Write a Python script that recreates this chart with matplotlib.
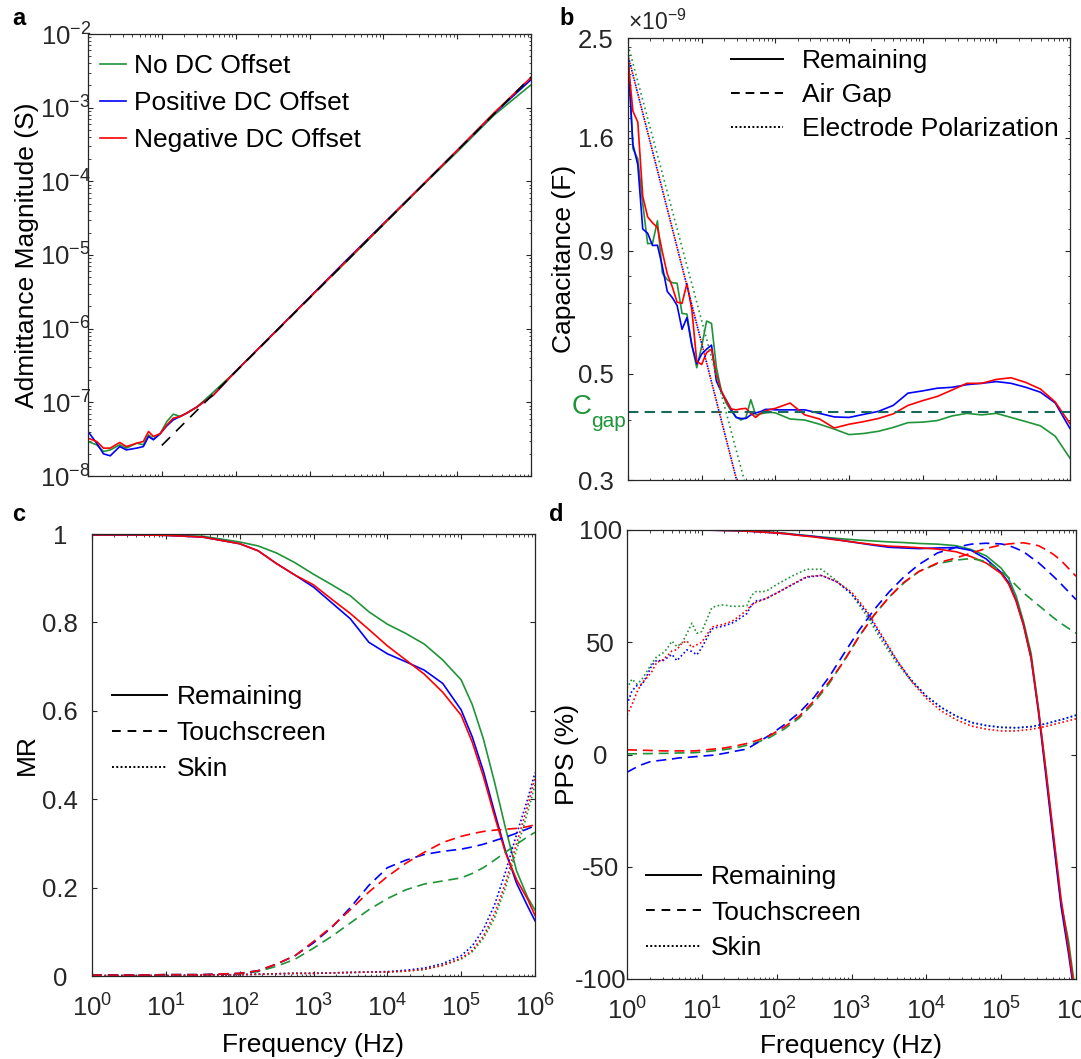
import numpy as np
import matplotlib
matplotlib.use("Agg")
import matplotlib.pyplot as plt
from matplotlib.lines import Line2D
from matplotlib import ticker, transforms

# ---------------------------------------------------------------- data ----
# (a) admittance magnitude (S) versus frequency (Hz)
freq_a = [1.0, 1.31, 1.62, 2.0, 2.69, 3.31, 4.57, 5.62, 6.61, 7.67, 9.46, 11.7,
          14.3, 17.7, 21.7, 29.7, 50.1, 100.0, 316.0, 1000.0, 3162.0, 1.0e4,
          3.162e4, 1.0e5, 3.162e5, 1.0e6]
adm_none = [2.94e-8, 2.65e-8, 2.15e-8, 2.26e-8, 2.65e-8, 2.39e-8, 2.79e-8, 2.65e-8,
            3.62e-8, 3.16e-8, 3.74e-8, 5.50e-8, 6.91e-8, 6.43e-8, 7.13e-8, 8.61e-8,
            1.38e-7, 2.63e-7, 8.32e-7, 2.63e-6, 8.13e-6, 2.57e-5, 8.13e-5, 2.51e-4,
            7.94e-4, 2.04e-3]
adm_pos = [4.02e-8, 2.79e-8, 2.00e-8, 1.88e-8, 2.51e-8, 2.26e-8, 2.39e-8, 2.51e-8,
           3.44e-8, 3.10e-8, 3.74e-8, 4.80e-8, 5.79e-8, 6.43e-8, 7.13e-8, 8.61e-8,
           1.26e-7, 2.63e-7, 8.32e-7, 2.66e-6, 8.51e-6, 2.66e-5, 8.32e-5, 2.63e-4,
           8.32e-4, 2.40e-3]
adm_neg = [3.27e-8, 2.94e-8, 2.39e-8, 2.39e-8, 2.85e-8, 2.51e-8, 2.79e-8, 2.94e-8,
           4.02e-8, 3.44e-8, 3.74e-8, 4.95e-8, 6.10e-8, 6.43e-8, 7.13e-8, 8.61e-8,
           1.26e-7, 2.63e-7, 8.32e-7, 2.63e-6, 8.32e-6, 2.63e-5, 8.32e-5, 2.63e-4,
           8.51e-4, 2.57e-3]
# air-gap admittance line (end points)
gapline_freq = [10.0, 1.0e6]
gapline_adm = [2.6e-8, 2.6e-3]

# frequency grid shared by panel b and the skin curves of panel d (Hz)
freq_fine = [1.0, 1.166, 1.359, 1.585, 1.848, 2.154, 2.512, 2.929, 3.415, 3.981,
             4.642, 5.412, 6.310, 7.356, 8.577, 10.0, 11.66, 13.59, 15.85, 18.48,
             21.54, 25.12, 29.29, 34.15, 39.81, 46.42, 54.12, 63.10, 73.56, 85.77,
             100.0, 158.5, 251.2, 398.1, 631.0, 1000.0, 1585.0, 2512.0, 3981.0,
             6310.0, 1.0e4, 1.585e4, 2.512e4, 3.981e4, 6.31e4, 1.0e5, 1.585e5,
             2.512e5, 3.981e5, 6.31e5, 1.0e6]

# (b) remaining capacitance (nF)
cap_none = [2.36, 1.47, 1.40, 1.13, 0.932, 0.934, 1.04, 0.809, 0.784, 0.773, 0.771,
            0.667, 0.665, 0.574, 0.514, 0.569, 0.643, 0.636, 0.515, 0.460, 0.434,
            0.418, 0.406, 0.400, 0.405, 0.441, 0.410, 0.412, 0.414, 0.415, 0.414,
            0.402, 0.400, 0.392, 0.383, 0.373, 0.375, 0.379, 0.386, 0.395, 0.396,
            0.399, 0.408, 0.413, 0.410, 0.413, 0.405, 0.397, 0.389, 0.370, 0.333]
cap_pos = [2.27, 1.50, 1.36, 1.00, 0.98, 0.924, 0.925, 0.835, 0.741, 0.72, 0.693,
           0.618, 0.654, 0.572, 0.524, 0.549, 0.562, 0.573, 0.482, 0.458, 0.440,
           0.421, 0.405, 0.403, 0.403, 0.410, 0.414, 0.4165, 0.421, 0.421, 0.420,
           0.420, 0.420, 0.413, 0.406, 0.405, 0.411, 0.417, 0.429, 0.455, 0.460,
           0.466, 0.468, 0.474, 0.477, 0.481, 0.477, 0.468, 0.457, 0.434, 0.384]
cap_neg = [2.24, 1.76, 1.67, 1.17, 1.06, 1.03, 1.007, 0.895, 0.806, 0.759, 0.704,
           0.700, 0.770, 0.679, 0.530, 0.522, 0.553, 0.562, 0.497, 0.460, 0.439,
           0.422, 0.420, 0.422, 0.423, 0.413, 0.405, 0.413, 0.418, 0.421, 0.423,
           0.434, 0.410, 0.402, 0.385, 0.392, 0.397, 0.403, 0.412, 0.429, 0.439,
           0.448, 0.462, 0.477, 0.477, 0.486, 0.490, 0.479, 0.464, 0.436, 0.393]
# electrode polarization fits (end points, nF)
ep_freq_pn = [1.0, 29.8]
ep_cap_pn = [2.30, 0.30]
ep_freq_none = [1.0, 37.8]
ep_cap_none = [2.42, 0.30]
c_gap = 0.415  # nF

# (c) magnitude ratio
freq_c = [1.0, 3.98, 10.0, 31.6, 100.0, 178.0, 316.0, 562.0, 1000.0, 1778.0,
          3162.0, 5623.0, 1.0e4, 1.778e4, 3.162e4, 5.623e4, 1.0e5, 1.413e5,
          1.995e5, 2.818e5, 3.981e5, 5.623e5, 7.943e5, 1.0e6]
mr_rem_none = [0.998, 0.998, 0.997, 0.995, 0.982, 0.973, 0.957, 0.935, 0.909, 0.885,
               0.860, 0.824, 0.796, 0.775, 0.751, 0.715, 0.670, 0.614, 0.537, 0.440,
               0.335, 0.238, 0.178, 0.149]
mr_rem_pos = [0.998, 0.998, 0.997, 0.993, 0.978, 0.962, 0.933, 0.907, 0.880, 0.844,
              0.808, 0.755, 0.729, 0.711, 0.692, 0.662, 0.602, 0.541, 0.464, 0.372,
              0.283, 0.210, 0.158, 0.125]
mr_rem_neg = [0.998, 0.998, 0.997, 0.993, 0.978, 0.962, 0.933, 0.907, 0.885, 0.852,
              0.820, 0.784, 0.747, 0.715, 0.683, 0.642, 0.590, 0.529, 0.452, 0.363,
              0.279, 0.218, 0.174, 0.137]
mr_ts_none = [0.002, 0.002, 0.003, 0.003, 0.005, 0.010, 0.022, 0.038, 0.063, 0.090,
              0.120, 0.150, 0.175, 0.195, 0.208, 0.215, 0.222, 0.232, 0.245, 0.262,
              0.280, 0.298, 0.315, 0.325]
mr_ts_pos = [0.002, 0.002, 0.003, 0.003, 0.006, 0.012, 0.027, 0.046, 0.075, 0.110,
             0.155, 0.205, 0.245, 0.262, 0.275, 0.282, 0.287, 0.292, 0.298, 0.306,
             0.314, 0.323, 0.333, 0.340]
mr_ts_neg = [0.002, 0.002, 0.003, 0.003, 0.006, 0.012, 0.027, 0.046, 0.078, 0.112,
             0.150, 0.190, 0.225, 0.255, 0.280, 0.302, 0.316, 0.322, 0.327, 0.330,
             0.332, 0.334, 0.338, 0.342]
mr_skin_none = [0.001, 0.001, 0.001, 0.002, 0.003, 0.004, 0.005, 0.006, 0.006, 0.007,
                0.008, 0.009, 0.009, 0.011, 0.015, 0.024, 0.038, 0.055, 0.085, 0.130,
                0.200, 0.285, 0.370, 0.432]
mr_skin_pos = [0.001, 0.001, 0.001, 0.002, 0.003, 0.004, 0.005, 0.006, 0.006, 0.007,
               0.008, 0.009, 0.010, 0.013, 0.018, 0.028, 0.046, 0.068, 0.105, 0.160,
               0.235, 0.320, 0.400, 0.460]
mr_skin_neg = [0.001, 0.001, 0.001, 0.002, 0.003, 0.004, 0.005, 0.006, 0.006, 0.007,
               0.008, 0.009, 0.009, 0.011, 0.015, 0.024, 0.040, 0.058, 0.090, 0.140,
               0.210, 0.300, 0.385, 0.448]

# (d) phase-angle percentage (%)
freq_d = [1.0, 1.259, 1.585, 1.995, 2.512, 3.162, 3.981, 5.012, 6.310, 7.943, 10.0,
          14.13, 19.95, 28.18, 39.81, 56.23, 79.43, 125.9, 199.5, 316.2, 501.2,
          794.3, 1259.0, 1995.0, 3162.0, 5012.0, 7943.0, 1.4125e4, 2.5119e4,
          3.9811e4, 6.3096e4, 1.0e5, 1.25893e5, 1.58489e5, 1.99526e5, 2.51189e5,
          3.16228e5, 3.98107e5, 5.01187e5, 6.30957e5, 7.94328e5, 1.0e6]
pps_rem_none = [100, 100, 100, 100, 100, 100, 100, 100, 100, 100, 100, 99.95, 99.9,
                99.8, 99.6, 99.4, 99.1, 98.6, 97.9, 97.2, 96.6, 96.0, 95.5, 95.1,
                94.7, 94.4, 94.0, 93.7, 93.0, 91.3, 88.5, 83.0, 78.5, 70.5, 59.0,
                45.0, 20.0, -8.0, -37.5, -65.9, -83.0, -108.0]
pps_rem_pos = [100, 100, 100, 100, 100, 100, 100, 100, 100, 100, 100, 99.9, 99.8,
               99.7, 99.5, 99.2, 98.9, 98.4, 97.7, 97.1, 96.2, 95.2, 94.2, 93.2,
               92.3, 92.0, 91.7, 92.0, 92.2, 90.9, 87.1, 81.1, 76.6, 68.5, 57.5,
               42.8, 18.4, -10.1, -39.1, -67.5, -88.6, -112.0]
pps_rem_neg = [100, 100, 100, 100, 100, 100, 100, 100, 100, 100, 100, 99.9, 99.8,
               99.7, 99.5, 99.2, 98.9, 98.4, 97.6, 96.9, 96.0, 95.2, 94.3, 93.5,
               92.8, 92.5, 92.1, 91.5, 90.3, 88.1, 85.3, 80.6, 75.9, 68.3, 57.5,
               42.9, 19.7, -7.6, -35.9, -64.3, -86.2, -110.0]
pps_ts_none = [0.3, 0.3, 0.4, 0.4, 0.5, 0.5, 0.6, 0.7, 0.7, 0.8, 1.1, 1.6, 2.2, 2.9,
               4.1, 5.5, 7.5, 11.3, 16.2, 23.1, 31.5, 41.8, 52.5, 62.0, 70.0, 76.4,
               81.5, 85.0, 86.6, 87.3, 86.0, 81.6, 78.8, 75.3, 71.9, 69.2, 66.4,
               63.7, 60.9, 58.4, 56.2, 54.0]
pps_ts_pos = [-7.9, -6.1, -4.5, -3.3, -2.8, -2.4, -2.0, -1.5, -1.3, -1.0, -0.7, -0.3,
              0.5, 1.5, 2.4, 5.4, 8.5, 13.2, 18.6, 25.5, 34.5, 45.0, 55.3, 64.4,
              72.3, 79.1, 84.6, 89.8, 92.3, 93.7, 94.1, 93.8, 93.1, 91.8, 90.3,
              87.8, 85.4, 82.4, 79.3, 76.0, 72.5, 69.0]
pps_ts_neg = [2.1, 2.0, 1.9, 1.8, 1.7, 1.6, 1.6, 1.6, 1.6, 1.6, 1.9, 2.4, 2.9, 3.8,
              4.9, 6.4, 8.3, 12.2, 17.0, 23.9, 32.3, 41.6, 52.5, 62.0, 70.0, 76.7,
              81.5, 85.3, 87.6, 89.7, 91.8, 93.3, 93.8, 94.1, 94.3, 93.7, 93.0,
              91.2, 89.1, 86.4, 82.9, 79.4]
pps_skin_none = [29.4, 33.6, 31.3, 33.5, 37.1, 40.7, 43.7, 44.8, 47.0, 50.5, 48.1,
                 49.6, 53.8, 58.5, 54.0, 54.8, 60.1, 65.4, 66.2, 66.6, 66.4, 66.0,
                 66.0, 66.1, 66.2, 71.0, 72.8, 72.4, 72.9, 74.3, 75.7, 79.4, 82.5,
                 82.5, 77.4, 71.5, 61.9, 51.0, 41.0, 32.7, 26.1, 21.0, 17.1, 14.3,
                 12.9, 12.1, 11.9, 12.4, 13.7, 15.5, 17.5]
pps_skin_pos = [22.2, 28.4, 30.7, 31.0, 35.2, 39.8, 42.1, 41.5, 43.0, 44.6, 41.8,
                44.2, 46.6, 45.9, 44.4, 47.6, 51.8, 55.9, 56.6, 57.0, 57.7, 58.5,
                59.7, 61.2, 62.7, 66.7, 68.5, 68.8, 69.6, 70.8, 71.9, 75.5, 79.0,
                79.7, 77.0, 71.6, 63.4, 52.6, 42.1, 33.2, 26.0, 20.9, 17.1, 14.3,
                12.9, 12.1, 11.9, 12.4, 13.7, 15.5, 17.5]
pps_skin_neg = [17.5, 22.2, 27.8, 31.9, 34.2, 37.0, 41.2, 41.9, 43.8, 46.1, 46.7,
                49.6, 50.6, 47.7, 48.9, 50.0, 53.4, 56.7, 57.4, 57.8, 58.5, 59.3,
                60.8, 62.5, 64.3, 66.6, 67.9, 68.7, 69.6, 70.8, 71.9, 75.6, 79.2,
                79.8, 77.0, 72.4, 64.2, 53.4, 42.4, 32.6, 25.0, 19.4, 15.5, 12.7,
                11.3, 10.5, 10.5, 11.2, 12.5, 14.2, 15.9]

offset_labels = ["No DC Offset", "Positive DC Offset", "Negative DC Offset"]
decade_ticks = [1e0, 1e1, 1e2, 1e3, 1e4, 1e5, 1e6]
decade_labels = [r"$\mathregular{10^{%d}}$" % k for k in range(7)]
adm_ticks = [1e-8, 1e-7, 1e-6, 1e-5, 1e-4, 1e-3, 1e-2]
adm_labels = [r"$\mathregular{10^{%d}}$" % k for k in range(-8, -1)]
cap_ticks = [0.3, 0.5, 0.9, 1.55, 2.5]
cap_labels = ["0.3", "0.5", "0.9", "1.6", "2.5"]

# --------------------------------------------------------------- style ----
plt.rcParams["font.family"] = ["Liberation Sans", "DejaVu Sans"]
plt.rcParams["mathtext.fontset"] = "custom"
plt.rcParams["mathtext.rm"] = "Liberation Sans"
plt.rcParams["mathtext.it"] = "Liberation Sans:italic"
plt.rcParams["mathtext.bf"] = "Liberation Sans:bold"

GREEN = "#1f9438"
BLUE = "#0000ff"
RED = "#ff0000"
TEAL = "#17695a"
AXC = "#262626"
LW = 1.2
DASH = (6, 3.5)
DOT = (1, 1.5)
TICK_FS = 18.5
LABEL_FS = 19
LEG_FS = 19

W, H = 1081, 1059
fig = plt.figure(figsize=(W / 100, H / 100), dpi=100)


def px_axes(x0, y0, x1, y1):
    return fig.add_axes([x0 / W, 1 - y1 / H, (x1 - x0) / W, (y1 - y0) / H])


def style(ax, ylab_pad):
    for s in ax.spines.values():
        s.set_color(AXC)
        s.set_linewidth(0.9)
    ax.tick_params(which="both", direction="in", top=True, right=True,
                   color=AXC, labelcolor=AXC, labelsize=TICK_FS)
    ax.tick_params(which="major", length=3.4, width=0.8)
    ax.tick_params(which="minor", length=1.8, width=0.6)
    ax.tick_params(axis="y", pad=ylab_pad)
    plt.setp(ax.get_yticklabels(), ha="center")


def decade_xaxis(ax, labels):
    ax.set_xscale("log")
    ax.set_xlim(1, 1e6)
    ax.xaxis.set_major_locator(ticker.FixedLocator(decade_ticks))
    ax.xaxis.set_minor_locator(ticker.LogLocator(base=10, subs=np.arange(2, 10), numticks=20))
    ax.xaxis.set_minor_formatter(ticker.NullFormatter())
    if labels:
        ax.set_xticklabels(decade_labels)
        shift = transforms.ScaledTranslation(-0.07, 0, fig.dpi_scale_trans)
        for t in ax.get_xticklabels():
            t.set_transform(t.get_transform() + shift)
        ax.tick_params(axis="x", pad=13)
    else:
        ax.tick_params(axis="x", labelbottom=False)


colors = [GREEN, BLUE, RED]

# ------------------------------------------------------------- panel a ----
ax_a = px_axes(88, 34, 531, 476)
for y, c, lab in zip([adm_none, adm_pos, adm_neg], colors, offset_labels):
    ax_a.plot(freq_a, y, color=c, lw=LW, label=lab)
ax_a.plot(gapline_freq, gapline_adm, color="black", lw=LW, dashes=(7, 5))
ax_a.set_yscale("log")
ax_a.set_ylim(1e-8, 1e-2)
decade_xaxis(ax_a, False)
ax_a.yaxis.set_major_locator(ticker.FixedLocator(adm_ticks))
ax_a.set_yticklabels(adm_labels)
ax_a.yaxis.set_minor_locator(ticker.LogLocator(base=10, subs=np.arange(2, 10), numticks=20))
ax_a.yaxis.set_minor_formatter(ticker.NullFormatter())
style(ax_a, 16)
ax_a.set_ylabel("Admittance Magnitude (S)", fontsize=LABEL_FS, color="black")
ax_a.yaxis.set_label_coords(-0.110, 0.5)
ax_a.legend(loc="upper left", bbox_to_anchor=(0.027, 0.955), frameon=False,
            fontsize=LEG_FS, handlelength=1.0, handletextpad=0.3,
            labelspacing=0.50, borderpad=0, borderaxespad=0)

# ------------------------------------------------------------- panel b ----
ax_b = px_axes(628, 38, 1070, 480)
for y, c in zip([cap_none, cap_pos, cap_neg], colors):
    ax_b.plot(freq_fine, y, color=c, lw=LW)
ax_b.axhline(c_gap, color=TEAL, lw=1.5, dashes=(5, 3))
ax_b.plot(ep_freq_none, ep_cap_none, color=GREEN, lw=LW, linestyle=(0, (1, 2)))
ax_b.plot(ep_freq_pn, ep_cap_pn, color=BLUE, lw=LW, linestyle=(0, (1, 2)))
ax_b.plot(ep_freq_pn, ep_cap_pn, color=RED, lw=LW, linestyle=(1.5, (1, 2)))
ax_b.set_yscale("log")
ax_b.set_ylim(0.3, 2.5)
decade_xaxis(ax_b, False)
ax_b.yaxis.set_major_locator(ticker.FixedLocator(cap_ticks))
ax_b.yaxis.set_major_formatter(ticker.FixedFormatter(cap_labels))
ax_b.yaxis.set_minor_locator(ticker.FixedLocator(np.arange(3, 26) / 10))
ax_b.yaxis.set_minor_formatter(ticker.NullFormatter())
style(ax_b, 23)
ax_b.set_ylabel("Capacitance (F)", fontsize=LABEL_FS, color="black")
ax_b.yaxis.set_label_coords(-0.117, 0.5)
ax_b.text(0.0, 1.006, "\u00d7" + r"$\mathregular{10^{-9}}$", transform=ax_b.transAxes,
          ha="left", va="bottom", fontsize=16.5, color=AXC)
# C_gap label next to the air-gap line, drawn as a letter plus a subscript
gap_xy = transforms.blended_transform_factory(ax_b.transAxes, ax_b.transData)
ax_b.annotate("C", xy=(0, c_gap), xycoords=gap_xy, xytext=(-36, 5),
              textcoords="offset pixels", ha="right", va="center",
              fontsize=20, color=GREEN)
ax_b.annotate("gap", xy=(0, c_gap), xycoords=gap_xy, xytext=(-2, -15),
              textcoords="offset pixels", ha="right", va="baseline",
              fontsize=15, color=GREEN)
h_b = [Line2D([], [], color="black", lw=1.4),
       Line2D([], [], color="black", lw=1.4, dashes=(4.5, 3)),
       Line2D([], [], color="black", lw=1.4, linestyle=(0, (1, 1.2)))]
ax_b.legend(h_b, ["Remaining", "Air Gap", "Electrode Polarization"], loc="upper left",
            bbox_to_anchor=(0.233, 0.975), frameon=False, fontsize=LEG_FS,
            handlelength=1.97, handletextpad=0.72, labelspacing=0.38,
            borderpad=0, borderaxespad=0)

# ------------------------------------------------------------- panel c ----
ax_c = px_axes(92, 534, 535, 976)
for ys, ls in [((mr_rem_none, mr_rem_pos, mr_rem_neg), "-"),
               ((mr_ts_none, mr_ts_pos, mr_ts_neg), (0, DASH)),
               ((mr_skin_none, mr_skin_pos, mr_skin_neg), (0, DOT))]:
    for y, c in zip(ys, colors):
        ax_c.plot(freq_c, y, color=c, lw=LW, linestyle=ls)
ax_c.set_ylim(0, 1)
ax_c.set_yticks([0, 0.2, 0.4, 0.6, 0.8, 1])
ax_c.set_yticklabels(["0", "0.2", "0.4", "0.6", "0.8", "1"])
decade_xaxis(ax_c, True)
style(ax_c, 23)
ax_c.set_ylabel("MR", fontsize=LABEL_FS, color="black")
ax_c.yaxis.set_label_coords(-0.120, 0.5)
ax_c.set_xlabel("Frequency (Hz)", fontsize=LABEL_FS, color="black")
ax_c.xaxis.set_label_coords(0.5, -0.130)

style_handles = [Line2D([], [], color="black", lw=1.4),
                 Line2D([], [], color="black", lw=1.4, dashes=(4.5, 3.5)),
                 Line2D([], [], color="black", lw=1.4, linestyle=(0, (1, 1.2)))]
leg_labels = ["Remaining", "Touchscreen", "Skin"]
ax_c.legend(style_handles, leg_labels, loc="upper left", bbox_to_anchor=(0.045, 0.658),
            frameon=False, fontsize=LEG_FS, handlelength=2.08, handletextpad=0.38,
            labelspacing=0.45, borderpad=0, borderaxespad=0)

# ------------------------------------------------------------- panel d ----
ax_d = px_axes(627, 530, 1076, 979)
for y, c in zip([pps_rem_none, pps_rem_pos, pps_rem_neg], colors):
    ax_d.plot(freq_d, y, color=c, lw=LW)
for y, c in zip([pps_ts_none, pps_ts_pos, pps_ts_neg], colors):
    ax_d.plot(freq_d, y, color=c, lw=LW, linestyle=(0, DASH))
for y, c in zip([pps_skin_none, pps_skin_pos, pps_skin_neg], colors):
    ax_d.plot(freq_fine, y, color=c, lw=LW, linestyle=(0, DOT))
ax_d.set_ylim(-100, 100)
ax_d.set_yticks([-100, -50, 0, 50, 100])
ax_d.set_yticklabels(["-100", "-50", "0", "50", "100"])
decade_xaxis(ax_d, True)
style(ax_d, 19)
ax_d.set_ylabel("PPS (%)", fontsize=LABEL_FS, color="black")
ax_d.yaxis.set_label_coords(-0.108, 0.5)
ax_d.set_xlabel("Frequency (Hz)", fontsize=LABEL_FS, color="black")
ax_d.xaxis.set_label_coords(0.5, -0.122)
ax_d.legend(style_handles, leg_labels, loc="upper left", bbox_to_anchor=(0.042, 0.254),
            frameon=False, fontsize=LEG_FS, handlelength=2.1, handletextpad=0.38,
            labelspacing=0.44, borderpad=0, borderaxespad=0)

# ------------------------------------------------------------ lettering ----
for x, y, s in [(12, 25, "a"), (559, 25, "b"), (12, 521, "c"), (549, 521, "d")]:
    fig.text(x / W, 1 - y / H, s, fontsize=17, fontweight="bold", va="baseline")

fig.savefig("out.png", dpi=100)
